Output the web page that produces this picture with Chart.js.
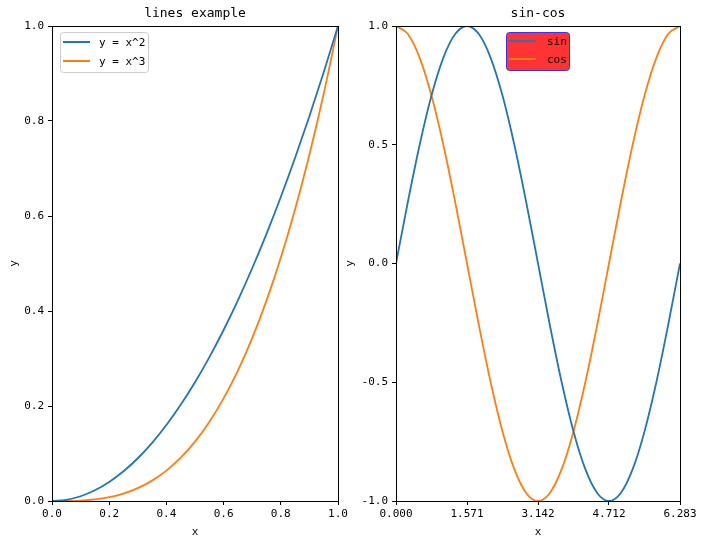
<!DOCTYPE html>
<html>
<head>
<meta charset="utf-8">
<script src="https://cdn.jsdelivr.net/npm/chart.js@4.4.0/dist/chart.umd.min.js"></script>
<style>
  html, body { margin: 0; padding: 0; background: #fff; }
  .wrap { position: absolute; top: 0; height: 546px; }
</style>
</head>
<body>
<div class="wrap" style="left:0;width:352px"><canvas id="left" width="352" height="546"></canvas></div>
<div class="wrap" style="left:340px;width:364px"><canvas id="right" width="364" height="546"></canvas></div>
<script>
// left panel: powers of x
const powX = [0, 0.05, 0.1, 0.15, 0.2, 0.25, 0.3, 0.35, 0.4, 0.45, 0.5, 0.55, 0.6, 0.65, 0.7, 0.75, 0.8, 0.85, 0.9, 0.95, 1];
const squareY = [0, 0.0025, 0.01, 0.0225, 0.04, 0.0625, 0.09, 0.1225, 0.16, 0.2025, 0.25, 0.3025, 0.36, 0.4225, 0.49, 0.5625, 0.64, 0.7225, 0.81, 0.9025, 1];
const cubeY = [0, 0.0001, 0.001, 0.0034, 0.008, 0.0156, 0.027, 0.0429, 0.064, 0.0911, 0.125, 0.1664, 0.216, 0.2746, 0.343, 0.4219, 0.512, 0.6141, 0.729, 0.8574, 1];
const leftXTicks = [0, 0.2, 0.4, 0.6, 0.8, 1.0];
const leftYTicks = [0, 0.2, 0.4, 0.6, 0.8, 1.0];

// right panel: sin / cos
const trigX = [0, 0.262, 0.524, 0.785, 1.047, 1.309, 1.571, 1.833, 2.094, 2.356, 2.618, 2.880, 3.142,
  3.403, 3.665, 3.927, 4.189, 4.451, 4.712, 4.974, 5.236, 5.498, 5.760, 6.021, 6.283];
const sinY = [0, 0.259, 0.5, 0.707, 0.866, 0.966, 1, 0.966, 0.866, 0.707, 0.5, 0.259, 0,
  -0.259, -0.5, -0.707, -0.866, -0.966, -1, -0.966, -0.866, -0.707, -0.5, -0.259, 0];
const cosY = [1, 0.966, 0.866, 0.707, 0.5, 0.259, 0, -0.259, -0.5, -0.707, -0.866, -0.966, -1,
  -0.966, -0.866, -0.707, -0.5, -0.259, 0, 0.259, 0.5, 0.707, 0.866, 0.966, 1];
const rightXTicks = [0, 1.571, 3.142, 4.712, 6.283];
const rightXLabels = ["0.000", "1.571", "3.142", "4.712", "6.283"];
const rightYTicks = [-1.0, -0.5, 0.0, 0.5, 1.0];

const BLUE = "#1f77b4";
const ORANGE = "#ff7f0e";
const FONT = "'DejaVu Sans Mono', monospace";

const toPoints = (xs, ys) => xs.map((x, i) => ({ x: x, y: ys[i] }));

// frame, title and a matplotlib style legend
const panelDecor = {
  id: "panelDecor",
  afterDraw(chart, args, opts) {
    const { ctx, chartArea: a } = chart;
    ctx.save();
    ctx.strokeStyle = "#000";
    ctx.lineWidth = 1;
    ctx.strokeRect(Math.round(a.left) + 0.5, Math.round(a.top) + 0.5,
      Math.round(a.right - a.left), Math.round(a.bottom - a.top));

    ctx.fillStyle = "#000";
    ctx.font = "13px " + FONT;
    ctx.textAlign = "center";
    ctx.textBaseline = "middle";
    ctx.fillText(opts.title, (a.left + a.right) / 2, 14);

    const lg = opts.legend;
    ctx.beginPath();
    ctx.roundRect(lg.x + 0.5, lg.y + 0.5, lg.w, lg.h, 3);
    ctx.fillStyle = lg.fill;
    ctx.fill();
    ctx.strokeStyle = lg.edge;
    ctx.stroke();

    ctx.font = "11px " + FONT;
    ctx.textAlign = "left";
    chart.data.datasets.forEach((ds, i) => {
      const y = lg.y + lg.rowY[i];
      ctx.strokeStyle = ds.borderColor;
      ctx.lineWidth = 2;
      ctx.beginPath();
      ctx.moveTo(lg.x + 3, y);
      ctx.lineTo(lg.x + 30, y);
      ctx.stroke();
      ctx.fillStyle = "#000";
      ctx.fillText(ds.label, lg.x + lg.textX, y + 1);
    });
    ctx.restore();
  }
};

function makePanel(id, datasets, xr, yr, xTicks, xLabel, yTicks, yWidth, yTitlePad, padRight, decor) {
  const tickFont = { family: FONT, size: 11 };
  return new Chart(document.getElementById(id), {
    type: "line",
    data: { datasets: datasets },
    options: {
      responsive: false,
      animation: false,
      layout: { padding: { top: 26, right: padRight, left: 0, bottom: 0 } },
      elements: { point: { radius: 0 } },
      plugins: { legend: { display: false }, tooltip: { enabled: false }, panelDecor: decor },
      scales: {
        x: {
          type: "linear", min: xr[0], max: xr[1],
          afterBuildTicks: s => { s.ticks = xTicks.map(v => ({ value: v })); },
          afterFit: s => { s.height = 45; },
          border: { display: false },
          grid: { drawOnChartArea: false, drawTicks: true, tickLength: 4, color: "#000" },
          ticks: { color: "#000", font: tickFont, padding: 3, maxRotation: 0, autoSkip: false,
            callback: (v, i) => xLabel[i] },
          title: { display: true, text: "x", color: "#000", font: { family: FONT, size: 11 },
            padding: { top: 0, bottom: 7 } }
        },
        y: {
          type: "linear", min: yr[0], max: yr[1],
          afterBuildTicks: s => { s.ticks = yTicks.map(v => ({ value: v })); },
          afterFit: s => { s.width = yWidth; },
          border: { display: false },
          grid: { drawOnChartArea: false, drawTicks: true, tickLength: 4, color: "#000" },
          ticks: { color: "#000", font: tickFont, padding: 4, autoSkip: false,
            callback: v => v.toFixed(1) },
          title: { display: true, text: "y", color: "#000", font: { family: FONT, size: 11 },
            padding: { top: yTitlePad, bottom: 0 } }
        }
      }
    },
    plugins: [panelDecor]
  });
}

const lineStyle = { borderWidth: 1.8, fill: false, cubicInterpolationMode: "monotone" };

makePanel("left", [
  Object.assign({ label: "y = x^2", data: toPoints(powX, squareY), borderColor: BLUE }, lineStyle),
  Object.assign({ label: "y = x^3", data: toPoints(powX, cubeY), borderColor: ORANGE }, lineStyle)
], [0, 1], [0, 1], leftXTicks, leftXTicks.map(v => v.toFixed(1)), leftYTicks, 52, 8, 14, {
  title: "lines example",
  legend: { x: 60, y: 32, w: 88, h: 40, rowY: [10, 29], textX: 39, fill: "rgba(255,255,255,0.8)", edge: "#cccccc" }
});

makePanel("right", [
  Object.assign({ label: "sin", data: toPoints(trigX, sinY), borderColor: BLUE }, lineStyle),
  Object.assign({ label: "cos", data: toPoints(trigX, cosY), borderColor: ORANGE }, lineStyle)
], [0, 6.283], [-1, 1], rightXTicks, rightXLabels, rightYTicks, 56, 4, 24, {
  title: "sin-cos",
  legend: { x: 166, y: 32, w: 63, h: 38, rowY: [9, 27], textX: 41, fill: "#ff3333", edge: "#3333ff" }
});
</script>
</body>
</html>
